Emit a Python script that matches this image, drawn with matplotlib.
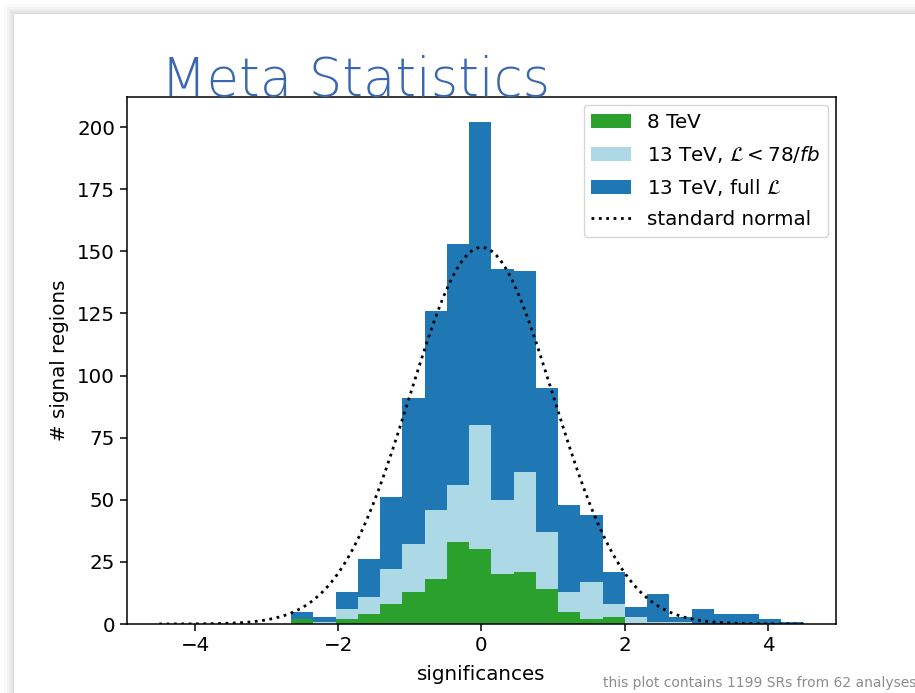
# Meta statistics slide: stacked histogram of signal-region significances
# with a standard normal overlay.

import numpy as np
import matplotlib.pyplot as plt
from matplotlib.patches import Rectangle

# binning of the significances (23 equal bins)
bin_lo, bin_hi, n_bins = -2.66, 4.49, 23

# per-bin counts, stacked from the bottom up
sr_8tev = [2, 0, 2, 4, 8, 13, 18, 33, 30, 20, 21, 14, 5, 2, 3, 0, 0, 0, 0, 0, 0, 0, 0]
sr_13tev_low = [0, 1, 4, 7, 14, 19, 28, 23, 50, 30, 40, 23, 8, 15, 5, 3, 1, 1, 0, 0, 0, 0, 0]
sr_13tev_full = [3, 2, 7, 15, 29, 59, 80, 97, 122, 93, 81, 58, 35, 27, 13, 4, 11, 2, 6, 4, 4, 2, 1]

norm_scale = 380.0   # normalisation of the standard normal curve
n_srs, n_analyses = 1199, 62

FS = 14.3

fig = plt.figure(figsize=(9.15, 6.93), dpi=100)
W, H = 915, 693

# slide background with a soft shadow around its edge
fig.patches.append(Rectangle((0, 0), 1, 1, transform=fig.transFigure,
                             facecolor="white", edgecolor="none", zorder=-10))
for k, a in [(10, 0.03), (7, 0.04), (5, 0.05), (3, 0.07), (1, 0.09)]:
    fig.patches.append(Rectangle(((14 - k) / W, 0), 1, (H - 14 + k) / H,
                                 transform=fig.transFigure, facecolor="#777777",
                                 alpha=a, edgecolor="none", zorder=-9))
fig.patches.append(Rectangle((14 / W, 0), 1, (H - 14) / H, transform=fig.transFigure,
                             facecolor="white", edgecolor="none", zorder=-8))

ax = fig.add_axes([127 / W, 1 - 624 / H, (836 - 127) / W, (624 - 97) / H])

edges = np.linspace(bin_lo, bin_hi, n_bins + 1)
width = edges[1] - edges[0]
g = np.array(sr_8tev)
lb = np.array(sr_13tev_low)
fb = np.array(sr_13tev_full)

ax.bar(edges[:-1], g, width=width, align="edge", color="#2ca02c",
       linewidth=0, label="8 TeV")
ax.bar(edges[:-1], lb, bottom=g, width=width, align="edge", color="lightblue",
       linewidth=0, label=r"13 TeV, $\mathcal{L} < 78/fb$")
ax.bar(edges[:-1], fb, bottom=g + lb, width=width, align="edge", color="#1f77b4",
       linewidth=0, label=r"13 TeV, full $\mathcal{L}$")

x = np.linspace(-4.5, 4.5, 200)
ax.plot(x, norm_scale * np.exp(-x ** 2 / 2) / np.sqrt(2 * np.pi),
        color="black", linestyle=":", linewidth=2.0, label="standard normal")

ax.set_xticks([-4, -2, 0, 2, 4])
ax.set_yticks([0, 25, 50, 75, 100, 125, 150, 175, 200])
ax.tick_params(labelsize=FS, length=5, width=1.1)
for s in ax.spines.values():
    s.set_linewidth(1.1)
ax.set_xlabel("significances", fontsize=FS, labelpad=7)
ax.set_ylabel("# signal regions", fontsize=FS, labelpad=6)

# patches first, then the curve, as on the slide
handles, labels = ax.get_legend_handles_labels()
order = [1, 2, 3, 0]
ax.legend([handles[i] for i in order], [labels[i] for i in order],
          loc="upper right", fontsize=FS, labelspacing=0.6,
          handlelength=2.0, borderaxespad=0.4)

fig.text(161 / W, 1 - 96 / H, "Meta Statistics", fontsize=38,
         family="DejaVu Sans", weight="light", color="#3a67ad", va="baseline")
fig.text(603 / W, 1 - 687 / H,
         f"this plot contains {n_srs} SRs from {n_analyses} analyses",
         fontsize=10.0, color="#8c8c8c", va="baseline")

fig.savefig("out.png", dpi=100)
